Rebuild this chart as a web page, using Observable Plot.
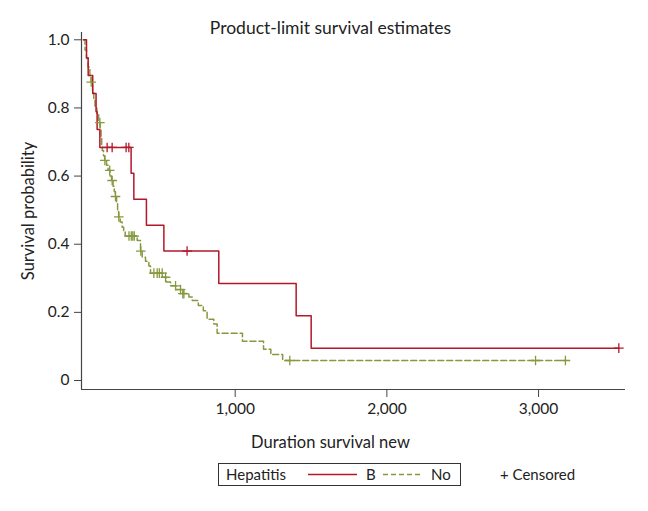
<!DOCTYPE html>
<html>
<head>
<meta charset="utf-8">
<script src="https://cdn.jsdelivr.net/npm/d3@7"></script>
<script src="https://cdn.jsdelivr.net/npm/@observablehq/plot@0.6"></script>
<style>
  html, body { margin: 0; padding: 0; background: #fff; }
  body { font-family: Lato, "Open Sans", sans-serif; color: #222; width: 648px; height: 511px; overflow: hidden; }
  #legend { position: relative; width: 648px; height: 55px; font-size: 15px; }
  #legend .box { position: absolute; left: 218px; top: 7px; width: 241px; height: 21px; border: 1px solid #333; }
  #legend span { position: absolute; top: 8px; line-height: 20px; }
  #legend svg { position: absolute; top: 8px; }
</style>
</head>
<body>
<div id="chart"></div>
<div id="legend"></div>
<script>
// ---- Data ----
const title = "Product-limit survival estimates";
const xLabel = "Duration survival new";
const yLabel = "Survival probability";
const groupName = "Hepatitis";
const seriesNames = ["B", "No"];

// Hepatitis B (solid red): step times and survival after each step
const bTime = [0, 20, 31, 61, 83, 90, 108, 314, 332, 415, 530, 892, 1402, 1501, 3529];
const bSurv = [1.0, 0.947, 0.895, 0.842, 0.789, 0.737, 0.684, 0.608, 0.532, 0.456, 0.380, 0.285, 0.190, 0.095, 0.095];
const bCensor = [156, 189, 281, 299, 683, 3529];

// Hepatitis No (dashed green)
const nTime = [0, 10, 20, 30, 42, 50, 60, 68, 76, 88, 100, 110, 116, 120, 124, 132, 140, 152, 162, 175, 185, 195, 203, 210, 218, 225, 232, 242, 255, 265, 275, 354, 376, 387, 409, 431, 442, 520, 545, 574, 610, 655, 695, 717, 757, 790, 815, 859, 881, 1048, 1187, 1235, 1313, 3177];
const nSurv = [1.0, 0.97, 0.945, 0.92, 0.895, 0.876, 0.85, 0.825, 0.80, 0.78, 0.757, 0.735, 0.71, 0.69, 0.675, 0.66, 0.646, 0.632, 0.617, 0.60, 0.587, 0.57, 0.555, 0.54, 0.52, 0.50, 0.48, 0.465, 0.45, 0.437, 0.424, 0.411, 0.38, 0.362, 0.35, 0.336, 0.315, 0.303, 0.289, 0.278, 0.267, 0.255, 0.245, 0.235, 0.22, 0.205, 0.18, 0.166, 0.139, 0.115, 0.092, 0.076, 0.0587, 0.0587];
const nCensor = [51, 108, 141, 173, 189, 211, 233, 300, 315, 325, 335, 378, 464, 486, 500, 519, 541, 607, 640, 655, 662, 1360, 2980, 3177];

const xTicks = [1000, 2000, 3000];
const yTicks = [0, 0.2, 0.4, 0.6, 0.8, 1.0];
const xDomain = [-13, 3573];
const yDomain = [-0.0264, 1.0214];

const colors = ["#b3182b", "#86993f"];

// ---- Build tables ----
function stepAt(times, survs, t) {
  let s = survs[0];
  for (let i = 0; i < times.length; i++) if (times[i] <= t) s = survs[i];
  return s;
}
const bLine = bTime.map((t, i) => ({t, s: bSurv[i]}));
const nLine = nTime.map((t, i) => ({t, s: nSurv[i]}));
const bCens = bCensor.map(t => ({t, s: stepAt(bTime, bSurv, t)}));
const nCens = nCensor.map(t => ({t, s: stepAt(nTime, nSurv, t)}));

const chart = Plot.plot({
  width: 648,
  height: 456,
  marginLeft: 81,
  marginRight: 23,
  marginTop: 32,
  marginBottom: 67,
  style: {fontFamily: "Lato, 'Open Sans', sans-serif", fontSize: "15px", color: "#222", background: "#fff"},
  x: {domain: xDomain},
  y: {domain: yDomain},
  marks: [
    Plot.axisY(yTicks, {tickSize: 7, tickPadding: 5, tickFormat: d => d === 0 ? "0" : d.toFixed(1), label: null, fontSize: 15.5, stroke: "#444"}),
    Plot.axisX(xTicks, {tickSize: 8, tickPadding: 5, tickFormat: d3.format(","), label: null, fontSize: 15.5, stroke: "#444"}),
    Plot.ruleX([xDomain[0]], {stroke: "#444", strokeWidth: 1.2}),
    Plot.ruleY([yDomain[0]], {stroke: "#444", strokeWidth: 1.2}),
    Plot.line(nLine, {x: "t", y: "s", curve: "step-after", stroke: colors[1], strokeWidth: 1.5, strokeDasharray: "6,3"}),
    Plot.line(bLine, {x: "t", y: "s", curve: "step-after", stroke: colors[0], strokeWidth: 1.5}),
    Plot.dot(nCens, {x: "t", y: "s", symbol: "plus", r: 3.2, stroke: colors[1], strokeWidth: 1.3}),
    Plot.dot(bCens, {x: "t", y: "s", symbol: "plus", r: 3.2, stroke: colors[0], strokeWidth: 1.3}),
    Plot.text([title], {frameAnchor: "top", lineAnchor: "middle", textAnchor: "middle", dx: -23, dy: -4, fontSize: 17.5, fill: "#222"}),
    Plot.text([xLabel], {frameAnchor: "bottom", lineAnchor: "middle", textAnchor: "middle", dx: -23, dy: 53, fontSize: 16.5, fill: "#222"}),
    Plot.text([yLabel], {frameAnchor: "left", lineAnchor: "middle", textAnchor: "middle", dx: -53, rotate: -90, fontSize: 16.5, fill: "#222"})
  ]
});
document.getElementById("chart").appendChild(chart);

// ---- Legend ----
const lg = document.getElementById("legend");
lg.innerHTML = `
  <div class="box"></div>
  <span style="left:226px">${groupName}</span>
  <svg style="left:308px" width="50" height="20"><line x1="0" x2="49" y1="10.5" y2="10.5" stroke="${colors[0]}" stroke-width="1.5"/></svg>
  <span style="left:366px">${seriesNames[0]}</span>
  <svg style="left:383px" width="40" height="20"><line x1="0" x2="39" y1="10.5" y2="10.5" stroke="${colors[1]}" stroke-width="1.5" stroke-dasharray="5,3"/></svg>
  <span style="left:431px">${seriesNames[1]}</span>
  <span style="left:500px">+ Censored</span>
`;
</script>
</body>
</html>
